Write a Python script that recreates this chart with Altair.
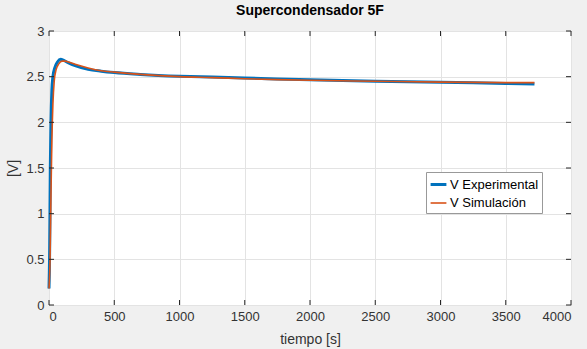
import altair as alt
import pandas as pd

# Experimental series
t_exp = [0, 5, 10, 15, 22, 30, 45, 65, 90, 110, 150, 200, 300, 400, 500, 700,
         1000, 1250, 1500, 1750, 2000, 2500, 3000, 3500, 3720]
v_exp = [0.18, 0.6, 1.5, 2.0, 2.35, 2.5, 2.6, 2.66, 2.69, 2.68, 2.65, 2.62, 2.58,
         2.56, 2.545, 2.525, 2.505, 2.495, 2.485, 2.475, 2.465, 2.45, 2.44, 2.425, 2.42]

# Simulated series
t_sim = [0, 8, 15, 22, 30, 40, 55, 75, 100, 125, 150, 200, 300, 400, 500, 700,
         1000, 1250, 1500, 1750, 2000, 2500, 3000, 3500, 3720]
v_sim = [0.18, 0.5, 1.2, 1.8, 2.2, 2.45, 2.58, 2.64, 2.67, 2.67, 2.66, 2.635, 2.595,
         2.565, 2.55, 2.525, 2.5, 2.49, 2.478, 2.468, 2.46, 2.45, 2.44, 2.435, 2.435]

series_names = ["V Experimental", "V Simulación"]
series_colors = ["#0072BD", "#D95319"]
series_widths = [3, 1.6]

x_ticks = [0, 500, 1000, 1500, 2000, 2500, 3000, 3500, 4000]
y_ticks = [0, 0.5, 1, 1.5, 2, 2.5, 3]

df = pd.concat([
    pd.DataFrame({"t": t_exp, "v": v_exp, "serie": series_names[0], "o": 0}),
    pd.DataFrame({"t": t_sim, "v": v_sim, "serie": series_names[1], "o": 1}),
])

W, H = 522, 274
TXT = "#333333"
FONT = "Liberation Sans"

xs = alt.Scale(domain=[0, 4000], nice=False)
ys = alt.Scale(domain=[0, 3], nice=False)

lines = alt.Chart(df).mark_line(interpolate="monotone").encode(
    x=alt.X("t:Q", scale=xs, title="tiempo [s]",
            axis=alt.Axis(values=x_ticks, grid=True, ticks=False, domain=False,
                          format="d", labelPadding=5, titlePadding=9)),
    y=alt.Y("v:Q", scale=ys, title="[V]",
            axis=alt.Axis(values=y_ticks, grid=True, ticks=False, domain=False,
                          format="~r", labelPadding=5, titlePadding=5)),
    color=alt.Color("serie:N", scale=alt.Scale(domain=series_names, range=series_colors),
                    title=None,
                    legend=alt.Legend(orient="none", legendX=377, legendY=141,
                                      symbolType="stroke", symbolSize=250,
                                      fillColor="white", strokeColor="#999999",
                                      padding=3, rowPadding=2, labelFontSize=13,
                                      labelColor="#000000", labelOffset=2)),
    strokeWidth=alt.StrokeWidth("serie:N",
                                scale=alt.Scale(domain=series_names, range=series_widths),
                                title=None, legend=alt.Legend(orient="none", legendX=377, legendY=141)),
    order="o:Q",
    detail="serie:N",
)

# inward ticks
xt = pd.DataFrame({"t": x_ticks})
yt = pd.DataFrame({"v": y_ticks})
tick_col = "#262626"
xt_bottom = alt.Chart(xt).mark_rule(color=tick_col, strokeWidth=1).encode(
    x=alt.X("t:Q", scale=xs), y=alt.value(H), y2=alt.value(H - 5))
xt_top = alt.Chart(xt).mark_rule(color=tick_col, strokeWidth=1).encode(
    x=alt.X("t:Q", scale=xs), y=alt.value(0), y2=alt.value(5))
yt_left = alt.Chart(yt).mark_rule(color=tick_col, strokeWidth=1).encode(
    y=alt.Y("v:Q", scale=ys), x=alt.value(0), x2=alt.value(5))
yt_right = alt.Chart(yt).mark_rule(color=tick_col, strokeWidth=1).encode(
    y=alt.Y("v:Q", scale=ys), x=alt.value(W), x2=alt.value(W - 5))

chart = alt.layer(lines, xt_bottom, xt_top, yt_left, yt_right).properties(
    width=W, height=H,
    title=alt.Title("Supercondensador 5F", fontSize=14, fontWeight="bold",
                    color="#000000", anchor="middle", offset=7, font=FONT),
    autosize=alt.AutoSizeParams(type="none"),
    padding={"left": 49, "top": 31, "right": 16, "bottom": 44},
).configure(
    background="#f0f0f0", font=FONT
).configure_view(
    fill="white", stroke="#7a7a7a", strokeWidth=1
).configure_axis(
    labelFont=FONT, titleFont=FONT, labelFontSize=13, titleFontSize=14,
    labelColor=TXT, titleColor=TXT, titleFontWeight="normal",
    gridColor="#e3e3e3", gridWidth=1
).configure_legend(
    labelFont=FONT
)

chart.save("out.html", embed_options={"renderer": "svg", "actions": False})
